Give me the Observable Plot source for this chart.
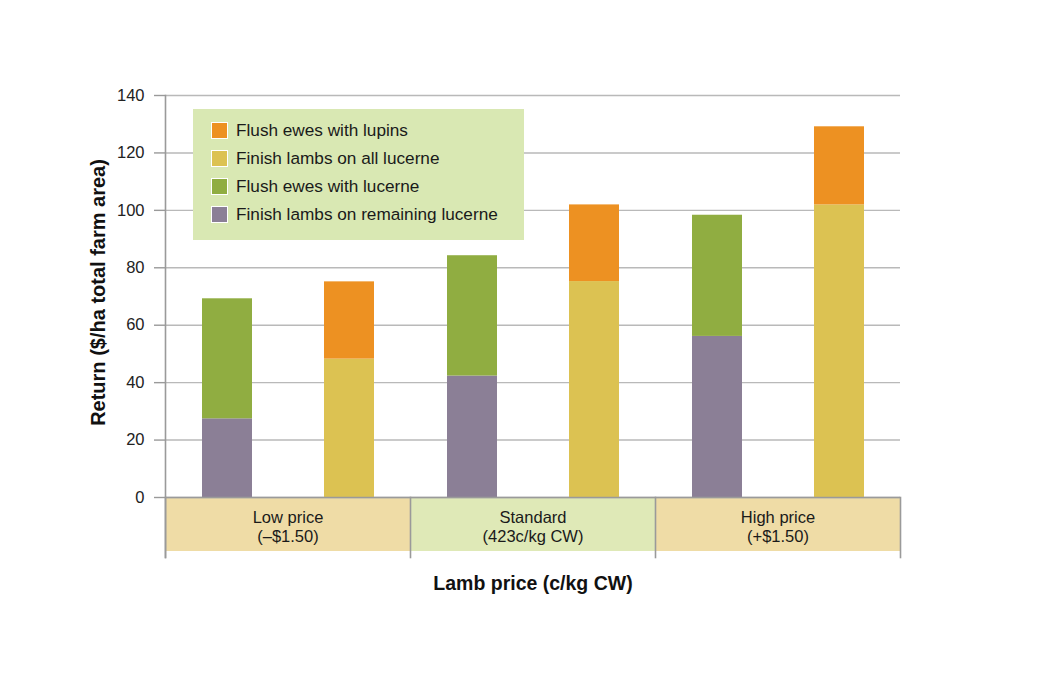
<!DOCTYPE html>
<html><head><meta charset="utf-8">
<script src="https://cdn.jsdelivr.net/npm/d3@7"></script>
<script src="https://cdn.jsdelivr.net/npm/@observablehq/plot@0.6"></script>
<style>
body{margin:0;background:#fff;font-family:"Liberation Sans",Arial,Helvetica,sans-serif;}
#wrap{position:relative;width:1040px;height:674px;}
#legend{position:absolute;left:193px;top:109px;width:331px;height:131px;background:#d9e8b3;box-sizing:border-box;padding:8px 0 0 18px;}
.item{display:flex;align-items:center;height:27.8px;font-size:17.2px;color:#1a1a1a;}
.sw{width:15px;height:15px;border:1.5px solid #fff;margin-right:8px;flex:none;}
</style></head><body>
<div id="wrap"><div id="chart"></div><div id="legend"></div></div>
<script>
const prices = ["Low price\n(\u2013$1.50)", "Standard\n(423c/kg CW)", "High price\n(+$1.50)"];
const boxFills = ["#efdca6", "#dfe9b7", "#efdca6"];
const barKeys = ["A", "B"];
const seriesNames = ["Flush ewes with lupins", "Finish lambs on all lucerne", "Flush ewes with lucerne", "Finish lambs on remaining lucerne"];
const seriesColors = ["#ed9122", "#dcc252", "#90ad41", "#8b7f96"];
const finishRemaining = [27.4, 42.3, 56.1];
const flushLucerne = [41.8, 41.9, 42.2];
const finishAll = [48.2, 75.2, 101.9];
const flushLupins = [26.9, 26.7, 27.2];
const yTicks = [0, 20, 40, 60, 80, 100, 120, 140];
const yLabel = "Return ($/ha total farm area)";
const xLabel = "Lamb price (c/kg CW)";

const rows = [];
prices.forEach((p, i) => {
  rows.push({price: p, bar: barKeys[0], series: seriesNames[3], value: finishRemaining[i]});
  rows.push({price: p, bar: barKeys[0], series: seriesNames[2], value: flushLucerne[i]});
  rows.push({price: p, bar: barKeys[1], series: seriesNames[1], value: finishAll[i]});
  rows.push({price: p, bar: barKeys[1], series: seriesNames[0], value: flushLupins[i]});
});

const plot = Plot.plot({
  width: 1040, height: 674,
  marginTop: 95, marginBottom: 177, marginLeft: 164, marginRight: 139,
  style: {fontFamily: "'Liberation Sans', Arial, Helvetica, sans-serif", fontSize: "16px", color: "#222", background: "transparent"},
  fx: {domain: prices, padding: 0, axis: null},
  x: {domain: barKeys, paddingInner: 0.593, paddingOuter: 0.297, axis: null},
  y: {domain: [0, 140], axis: null},
  color: {domain: seriesNames, range: seriesColors},
  marks: [
    ...prices.map((p, i) => Plot.rect([p], {fx: d => d, y1: 0, y2: 0, insetBottom: -54, fill: boxFills[i]})),
    Plot.gridY(yTicks, {stroke: "#b9b9b9", strokeOpacity: 1, strokeWidth: 1.4}),
    Plot.axisY(yTicks, {tickSize: 11, tickPadding: 10, stroke: "#9a9a9a", strokeWidth: 1.4, fill: "#222", fontSize: 16.5, label: null}),
    Plot.barY(rows, {fx: "price", x: "bar", y: "value", fill: "series"}),
    Plot.ruleY([0], {stroke: "#9a9a9a", strokeWidth: 1.6}),
    Plot.frame({anchor: "left", facetAnchor: "left", stroke: "#9a9a9a", strokeWidth: 1.6, insetBottom: -60}),
    Plot.frame({anchor: "left", stroke: "#9a9a9a", strokeWidth: 1.6, insetTop: 402, insetBottom: -60}),
    Plot.frame({anchor: "right", facetAnchor: "right", stroke: "#9a9a9a", strokeWidth: 1.6, insetTop: 402, insetBottom: -60}),
    Plot.text(prices, {fx: d => d, text: d => d, frameAnchor: "bottom", lineAnchor: "middle", dy: 29, fontSize: 16.5, lineHeight: 1.15, fill: "#1a1a1a"}),
    Plot.text([prices[1]], {fx: d => d, text: () => xLabel, frameAnchor: "bottom", lineAnchor: "middle", dy: 86, fontSize: 19.5, fontWeight: "bold", fill: "#111"}),
    Plot.text([prices[0]], {fx: d => d, text: () => yLabel, frameAnchor: "left", textAnchor: "middle", lineAnchor: "middle", rotate: -90, dx: -67, dy: -4, fontSize: 20, fontWeight: "bold", fill: "#111"})
  ]
});
document.getElementById("chart").append(plot);

const legend = document.getElementById("legend");
seriesNames.forEach((name, i) => {
  const item = document.createElement("div");
  item.className = "item";
  const sw = document.createElement("span");
  sw.className = "sw";
  sw.style.background = seriesColors[i];
  const label = document.createElement("span");
  label.textContent = name;
  item.append(sw, label);
  legend.append(item);
});
</script>
</body></html>
